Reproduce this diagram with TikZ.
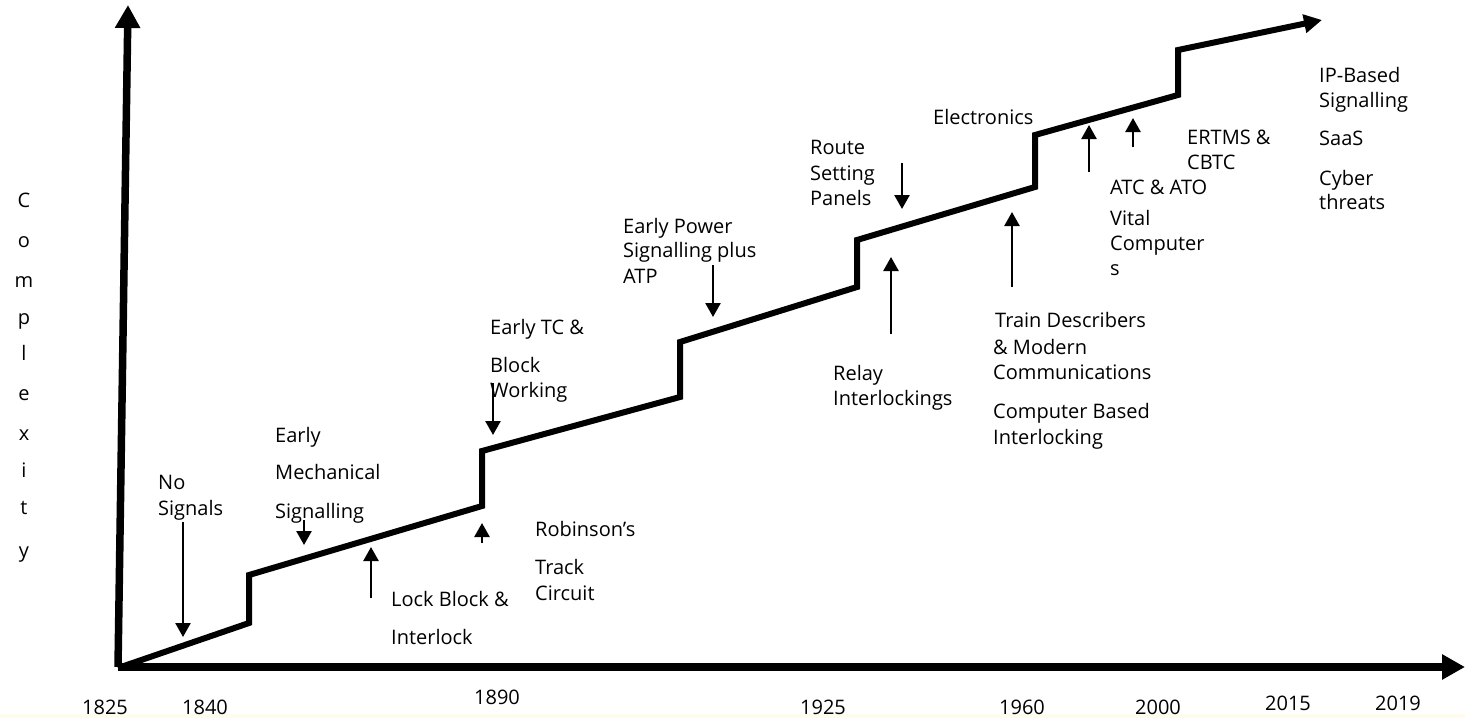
\documentclass[tikz,border=0pt]{standalone}
\usepackage{fontspec}
\setmainfont{Open Sans}
\usetikzlibrary{arrows.meta}
\definecolor{cream}{RGB}{255,252,238}
\begin{document}
\begin{tikzpicture}[x=1pt,y=-1pt,
  lbl/.style={anchor=base west,inner sep=0pt,font=\fontsize{20}{24}\selectfont},
  yr/.style={anchor=base,inner sep=0pt,font=\fontsize{20}{24}\selectfont},
  axisline/.style={line width=7.5pt,-{Triangle[length=23pt,width=24pt]}},
  stair/.style={line width=6pt,line join=miter,-{Triangle[length=18pt,width=18pt]}},
  ann/.style={line width=2.5pt,-{Triangle[length=14pt,width=15pt]}},
]
\useasboundingbox (0,0) rectangle (1465,718);
\fill[white] (0,0) rectangle (1465,718);
\fill[cream] (0,714) rectangle (1465,718);

% axes
\coordinate (O) at (118,667);
\coordinate (Ytip) at (128,5);
\coordinate (Xtip) at (1465,667);
\draw[axisline] (O) -- (Ytip);
\draw[axisline] (O) -- (Xtip);

% staircase
\coordinate (s0) at (118,668);
\coordinate (s1) at (249,623);
\coordinate (s2) at (249,575);
\coordinate (s3) at (482,506);
\coordinate (s4) at (482,451);
\coordinate (s5) at (680,397);
\coordinate (s6) at (680,342);
\coordinate (s7) at (857,287);
\coordinate (s8) at (857,240);
\coordinate (s9) at (1035,187);
\coordinate (s10) at (1035,135);
\coordinate (s11) at (1178,95);
\coordinate (s12) at (1178,50);
\coordinate (s13) at (1322,20);
\draw[stair] (s0) -- (s1) -- (s2) -- (s3) -- (s4) -- (s5) -- (s6) -- (s7) -- (s8) -- (s9) -- (s10) -- (s11) -- (s12) -- (s13);

% vertical axis label
\foreach \ch/\yy [count=\i] in {C/200,o/240,m/280,p/317,l/353,e/393,x/433,i/470,t/507,y/550}
  \node[yr] (cx\i) at (24,\yy+7) {\ch};

% labels
\node[lbl] (ns1) at (158,489) {No};
\node[lbl] (ns2) at (158,515) {Signals};

\node[lbl] (em1) at (275,442) {Early};
\node[lbl] (em2) at (275,479) {Mechanical};
\node[lbl] (em3) at (275,518) {Signalling};

\node[lbl] (lb1) at (391,606) {Lock Block \&};
\node[lbl] (lb2) at (391,644) {Interlock};

\node[lbl] (rb1) at (535,536) {Robinson’s};
\node[lbl] (rb2) at (535,574) {Track};
\node[lbl] (rb3) at (535,600) {Circuit};

\node[lbl] (tc1) at (490,334) {Early TC \&};
\node[lbl] (tc2) at (490,372) {Block};
\node[lbl] (tc3) at (490,397) {Working};

\node[lbl] (ep1) at (623,233) {Early Power};
\node[lbl] (ep2) at (623,257) {Signalling plus};
\node[lbl] (ep3) at (623,283) {ATP};

\node[lbl] (rs1) at (810,154) {Route};
\node[lbl] (rs2) at (810,180) {Setting};
\node[lbl] (rs3) at (810,205) {Panels};

\node[lbl] (ri1) at (833,380) {Relay};
\node[lbl] (ri2) at (833,405) {Interlockings};

\node[lbl] (el) at (933,124) {Electronics};

\node[lbl] (td1) at (995,327) {Train Describers};
\node[lbl] (td2) at (993,354) {\& Modern};
\node[lbl] (td3) at (993,379) {Communications};
\node[lbl] (cb1) at (993,418) {Computer Based};
\node[lbl] (cb2) at (993,444) {Interlocking};

\node[lbl] (at1) at (1110,194) {ATC \& ATO};
\node[lbl] (at2) at (1110,225) {Vital};
\node[lbl] (at3) at (1110,250) {Computer};
\node[lbl] (at4) at (1110,275) {s};

\node[lbl] (er1) at (1187,144) {ERTMS \&};
\node[lbl] (er2) at (1187,169) {CBTC};

\node[lbl] (ip1) at (1319,82) {IP-Based};
\node[lbl] (ip2) at (1319,107) {Signalling};
\node[lbl] (ip3) at (1319,145) {SaaS};
\node[lbl] (ip4) at (1319,185) {Cyber};
\node[lbl] (ip5) at (1319,209) {threats};

% years
\node[yr] (y1825) at (105,714) {1825};
\node[yr] (y1840) at (205,714) {1840};
\node[yr] (y1890) at (497,704) {1890};
\node[yr] (y1925) at (823,714) {1925};
\node[yr] (y1960) at (1022,714) {1960};
\node[yr] (y2000) at (1158,714) {2000};
\node[yr] (y2015) at (1288,710) {2015};
\node[yr] (y2019) at (1398,710) {2019};

% annotation arrows
\coordinate (a1s) at (183,522);  \coordinate (a1e) at (183,637);
\coordinate (a2s) at (304,520);  \coordinate (a2e) at (304,545);
\coordinate (a3s) at (371,598);  \coordinate (a3e) at (371,547);
\coordinate (a4s) at (482,543);  \coordinate (a4e) at (482,523);
\coordinate (a5s) at (493,383);  \coordinate (a5e) at (493,435);
\coordinate (a6s) at (713,265);  \coordinate (a6e) at (713,317);
\coordinate (a7s) at (902,163);  \coordinate (a7e) at (902,209);
\coordinate (a8s) at (891,334);  \coordinate (a8e) at (891,257);
\coordinate (a9s) at (1012,287); \coordinate (a9e) at (1012,212);
\coordinate (a10s) at (1089,172); \coordinate (a10e) at (1089,125);
\coordinate (a11s) at (1133,147); \coordinate (a11e) at (1133,118);
\foreach \k in {1,...,11}
  \draw[ann] (a\k s) -- (a\k e);
\end{tikzpicture}
\end{document}
